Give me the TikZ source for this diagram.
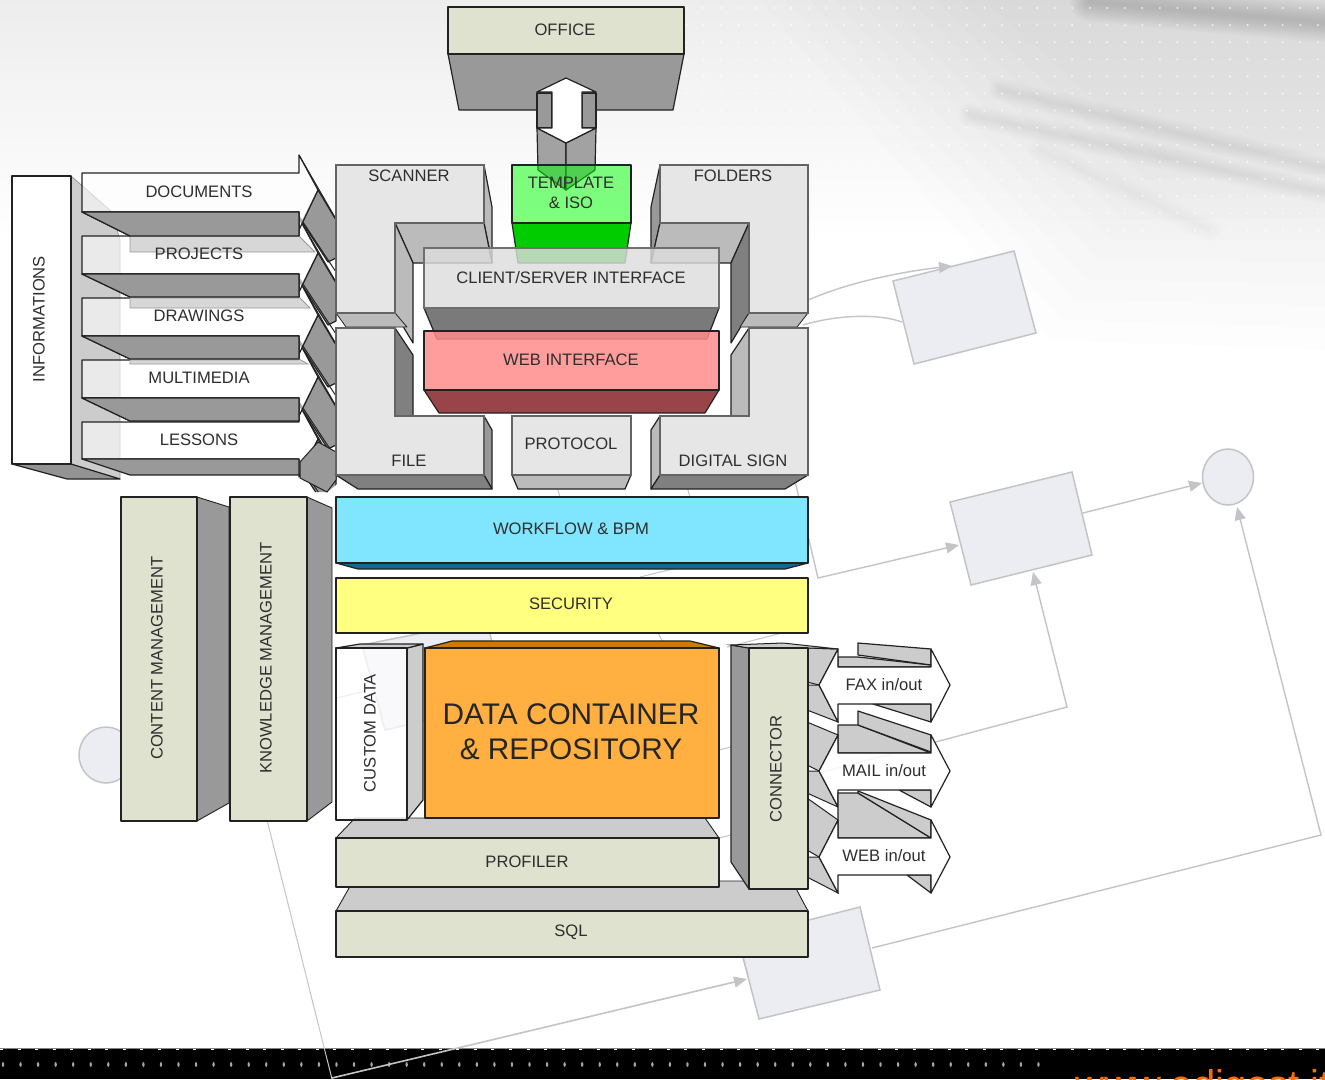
\documentclass[tikz,border=0pt]{standalone}
\usepackage{fontspec}
\setmainfont{Liberation Sans}
\usetikzlibrary{arrows.meta}
\definecolor{ink}{HTML}{222222}
\definecolor{txt}{HTML}{2E2E2E}
\definecolor{khaki}{HTML}{DFE2CF}
\definecolor{pale}{HTML}{E6E6E6}
\definecolor{midg}{HTML}{BBBBBB}
\definecolor{darkg}{HTML}{999999}
\definecolor{deepg}{HTML}{808080}
\definecolor{bgfill}{HTML}{EBEDF2}
\definecolor{bgline}{HTML}{C4C4C8}
\tikzset{
  face/.style={draw=ink,line width=1.2pt,line join=round},
  bgshape/.style={draw=bgline,fill=bgfill,line width=1.5pt},
  bglink/.style={draw=bgline,line width=1.4pt},
  bgarrow/.style={bglink,-{Triangle[length=13pt,width=11pt]}},
  lab/.style={text=txt,font=\fontsize{16.6}{20}\selectfont,inner sep=0pt,align=center,yshift=-1pt},
  vlab/.style={lab,yshift=1pt,rotate=90},
}
\begin{document}
\begin{tikzpicture}[x=1pt,y=-1pt]
\useasboundingbox (0,0) rectangle (1325,1079);
\begin{scope}
\clip (0,0) rectangle (1325,1079);
% ---------- paper texture
\fill[white] (0,0) rectangle (1325,1079);
\shade[top color=black!7,bottom color=white] (0,0) rectangle (1325,240);
\foreach \k in {0,...,9}
  \fill[black,opacity=.007] (760+\k*25,0) -- (1325,0) -- (1325,350-\k*22) -- (1050+\k*12,340-\k*20) -- cycle;
\foreach \w in {4,8,...,40}
  \draw[black,opacity=.014,line width=\w pt,line cap=round] (1090,2) -- (1340,24);
\foreach \w in {3,6,...,24} {
  \draw[black,opacity=.009,line width=\w pt,line cap=round] (1000,90) -- (1340,172);
  \draw[black,opacity=.009,line width=\w pt,line cap=round] (970,115) -- (1340,196);
  \draw[black,opacity=.004,line width=\w pt,line cap=round] (1040,150) -- (1210,230);
}
\fill[white,opacity=.75] \foreach \x in {0,...,36}{\foreach \y in {0,...,13}{ (686+\x*17.55,8+\y*17.1) circle[radius=1.1] }};
% ---------- bottom band
\fill[black] (0,1049) rectangle (1325,1079);
\draw[gray,line width=1pt] (0,1048.5) -- (1325,1048.5);
\draw[white,line width=1pt,dash pattern=on 3pt off 14.55pt] (0,1049.5) -- (1325,1049.5);
\fill[white!65!black] \foreach \x in {0,...,59}{ (3+\x*17.55,1064.5) circle[x radius=1.2,y radius=2.4] };
\node[anchor=base west,inner sep=0pt,text=orange!85!red,font=\fontsize{40}{44}\selectfont] (site) at (1075,1098.5) {www.edigest.it};
% ---------- faint process diagram behind
\coordinate (bgA1) at (893,281); \coordinate (bgA2) at (1014,251); \coordinate (bgA3) at (1036,333); \coordinate (bgA4) at (914,364);
\coordinate (bgB1) at (950,502); \coordinate (bgB2) at (1072,472); \coordinate (bgB3) at (1092,555); \coordinate (bgB4) at (971,585);
\coordinate (bgC1) at (738,938); \coordinate (bgC2) at (860,907); \coordinate (bgC3) at (880,990); \coordinate (bgC4) at (759,1019);
\coordinate (bgD1) at (362,645); \coordinate (bgD2) at (487,620); \coordinate (bgD3) at (505,702); \coordinate (bgD4) at (385,730);
\filldraw[bgshape] (bgA1) -- (bgA2) -- (bgA3) -- (bgA4) -- cycle;
\filldraw[bgshape] (bgB1) -- (bgB2) -- (bgB3) -- (bgB4) -- cycle;
\filldraw[bgshape] (bgC1) -- (bgC2) -- (bgC3) -- (bgC4) -- cycle;
\filldraw[bgshape] (bgD1) -- (bgD2) -- (bgD3) -- (bgD4) -- cycle;
\filldraw[bgshape] (1228,477) ellipse[x radius=25.5,y radius=28];
\filldraw[bgshape] (106,755) ellipse[x radius=27,y radius=28];
\coordinate (circR) at (1202,483); \coordinate (circB) at (1237,507);
\coordinate (c1s) at (808,300); \coordinate (c1e) at (952,266);
\coordinate (c2s) at (803,325); \coordinate (c2e) at (902,322);
\coordinate (c3s) at (790,460); \coordinate (c3m) at (818,578); \coordinate (c3e) at (959,545);
\coordinate (c4s) at (1083,513);
\coordinate (c5s) at (808,776); \coordinate (c5m) at (1067,707); \coordinate (c5e) at (1033,572);
\coordinate (c6s) at (872,948); \coordinate (c6m) at (1321,835);
\coordinate (c7s) at (332,1078); \coordinate (c7e) at (747,979);
\coordinate (c8s) at (262,800); \coordinate (c8e) at (332,1079);
\draw[bgarrow] (c1s) .. controls (850,282) and (900,272) .. (c1e);
\draw[bglink] (c2s) .. controls (840,314) and (880,314) .. (c2e);
\draw[bgarrow] (c3s) -- (c3m) -- (c3e);
\draw[bgarrow] (c4s) -- (circR);
\draw[bgarrow] (c5s) -- (c5m) -- (c5e);
\draw[bgarrow] (c6s) -- (c6m) -- (circB);
\draw[bgarrow,line width=1.6pt] (c7s) -- (c7e);
\draw[draw=bgline,line width=1pt] (c8s) -- (c8e);
\draw[bglink,line width=1pt] (337,698) -- (365,691);
\draw[bglink,line width=1pt] (640,577) -- (697,563);
\draw[bglink,line width=1pt] (727,647) -- (790,631);
\draw[bglink,line width=1pt] (658,633) -- (663,642);
\draw[bglink,line width=1pt] (719,750) -- (731,747);
\draw[bglink,line width=1pt] (719,838) -- (731,835);
\draw[bglink,line width=1pt] (555,480) -- (560,497);
\draw[bglink,line width=1pt] (685,480) -- (690,497);
\draw[bglink,line width=1pt] (743,957) -- (748,975);
% ---------- INFORMATIONS
\filldraw[draw=darkg,fill=black!20,line width=.8pt] (71,176) -- (112,212) -- (120,240) -- (120,479) -- (71,464) -- cycle;
\filldraw[face,fill=deepg!85] (12,464) -- (67,479) -- (120,479) -- (71,464) -- cycle;
\filldraw[face,fill=white] (12,176) rectangle (71,464);
% ---------- five arrows, bottom to top
\begin{scope}
\clip (0,0) -- (340,0) -- (340,482) -- (327,492) -- (0,492) -- cycle;
\foreach \t/\b/\c/\ex in {
   422/459/439/475,
   360/398/377/421,
   298/336/315/359,
   236/274/253/297,
   173/212/190/236} {
  \filldraw[face,fill=darkg] (318,\c) -- (336,\c+30) -- (336,\c+68) -- (328,\c+72) -- (302,\c+32) -- cycle;
  \draw[ink,line width=1pt] (299,\t-18) -- (340,\c+36);
  \draw[ink,line width=1pt] (299,\b+4) -- (340,\b+66);
  \filldraw[face,fill=white,fill opacity=.6] (82,\t) -- (299,\t) -- (299,\t-18) -- (318,\c) -- (299,\b+18) -- (299,\b) -- (82,\b) -- cycle;
  \filldraw[face,fill=darkg] (82,\b) -- (130,\ex) -- (299,\ex) -- (299,\b) -- cycle;
}
\end{scope}
\filldraw[draw=darkg,fill=black!18,line width=.8pt,fill opacity=.85] (130,236) -- (130,252) -- (315,252) -- (299,236) -- cycle;
\filldraw[draw=darkg,fill=black!18,line width=.8pt,fill opacity=.85] (130,297) -- (130,308) -- (310,308) -- (299,297) -- cycle;
\filldraw[draw=darkg,fill=black!18,line width=.8pt,fill opacity=.85] (130,359) -- (130,364) -- (308,364) -- (299,359) -- cycle;
\filldraw[face,fill=darkg] (82,212) -- (130,236) -- (299,236) -- (299,212) -- cycle;
\filldraw[face,fill=darkg] (82,274) -- (130,297) -- (299,297) -- (299,274) -- cycle;
\filldraw[face,fill=darkg] (82,336) -- (130,359) -- (299,359) -- (299,336) -- cycle;
\filldraw[face,fill=darkg] (82,398) -- (130,421) -- (299,421) -- (299,398) -- cycle;
\filldraw[draw=ink,line width=1pt,fill=darkg] (318,442) -- (336,452) -- (336,480) -- (327,492) -- (300,478) -- (300,462) -- cycle;
% ---------- OFFICE and its double arrow
\filldraw[face,fill=darkg] (448,54) -- (459,110) -- (673,110) -- (684,54) -- cycle;
\filldraw[face,fill=khaki] (448,7) rectangle (684,54);
\filldraw[face,fill=darkg,fill opacity=.9] (537,128) -- (566,143) -- (566,190) -- (538,170) -- cycle;
\filldraw[face,fill=darkg,fill opacity=.9] (596,128) -- (566,143) -- (566,190) -- (595,170) -- cycle;
\filldraw[face,fill=darkg] (537,93) rectangle (552,128);
\filldraw[face,fill=darkg] (582,93) rectangle (596,128);
\filldraw[face,fill=white] (566,78) -- (596,92) -- (582,92) -- (582,128) -- (596,128) -- (566,143) -- (537,128) -- (552,128) -- (552,92) -- (537,92) -- cycle;
% ---------- the four L blocks
% SCANNER
\filldraw[face,fill=midg] (484,165) -- (492,207) -- (492,263) -- (484,223) -- cycle;
\filldraw[face,fill=midg] (395,223) -- (413,263) -- (492,263) -- (484,223) -- cycle;
\filldraw[face,fill=midg] (395,223) -- (413,263) -- (413,343) -- (395,313) -- cycle;
\filldraw[face,fill=midg,line width=.8pt] (336,313) -- (346,327) -- (407,327) -- (395,313) -- cycle;
\filldraw[draw=ink!70,line width=1.2pt,fill=pale] (336,165) -- (484,165) -- (484,223) -- (395,223) -- (395,313) -- (336,313) -- cycle;
% FOLDERS
\filldraw[face,fill=darkg] (660,165) -- (651,207) -- (651,263) -- (660,223) -- cycle;
\filldraw[face,fill=midg] (660,223) -- (651,263) -- (731,263) -- (749,223) -- cycle;
\filldraw[face,fill=deepg] (749,223) -- (731,263) -- (731,343) -- (749,313) -- cycle;
\filldraw[face,fill=midg,line width=.8pt] (808,313) -- (797,327) -- (740,327) -- (749,313) -- cycle;
\filldraw[draw=ink!70,line width=1.2pt,fill=pale] (660,165) -- (808,165) -- (808,313) -- (749,313) -- (749,223) -- (660,223) -- cycle;
% FILE
\filldraw[face,fill=deepg] (395,328) -- (413,355) -- (413,416) -- (395,416) -- cycle;
\filldraw[face,fill=darkg] (484,416) -- (492,430) -- (492,489) -- (484,475) -- cycle;
\filldraw[face,fill=deepg] (336,475) -- (358,489) -- (492,489) -- (484,475) -- cycle;
\filldraw[draw=ink!70,line width=1.2pt,fill=pale] (336,328) -- (395,328) -- (395,416) -- (484,416) -- (484,475) -- (336,475) -- cycle;
% DIGITAL SIGN
\filldraw[face,fill=midg] (749,328) -- (731,355) -- (731,416) -- (749,416) -- cycle;
\filldraw[face,fill=midg] (660,416) -- (651,430) -- (651,489) -- (660,475) -- cycle;
\filldraw[face,fill=deepg] (660,475) -- (651,489) -- (785,489) -- (808,475) -- cycle;
\filldraw[draw=ink!70,line width=1.2pt,fill=pale] (749,328) -- (808,328) -- (808,475) -- (660,475) -- (660,416) -- (749,416) -- cycle;
% PROTOCOL
\filldraw[face,fill=midg] (512,475) -- (518,489) -- (625,489) -- (631,475) -- cycle;
\filldraw[draw=ink!70,line width=1.2pt,fill=pale] (512,416) rectangle (631,475);
% TEMPLATE
\filldraw[face,fill=green!80!black] (512,223) -- (518,263) -- (625,263) -- (631,223) -- cycle;
\filldraw[face,fill={rgb,255:red,0;green,255;blue,0},fill opacity=.5] (512,165) rectangle (631,223);
% CLIENT/SERVER and WEB
\filldraw[face,fill=black!52] (424,308) -- (437,339) -- (707,339) -- (719,308) -- cycle;
\filldraw[draw=ink!65,line width=1.2pt,fill={rgb,255:red,221;green,221;blue,221},fill opacity=.82] (424,248) rectangle (719,308);
\filldraw[face,fill={rgb,255:red,152;green,68;blue,72}] (424,390) -- (439,413) -- (705,413) -- (719,390) -- cycle;
\filldraw[face,fill={rgb,255:red,255;green,140;blue,140},fill opacity=.85] (424,331) rectangle (719,390);
% ---------- management columns
\filldraw[face,fill=darkg,line width=.9pt] (197,497) -- (229,507) -- (229,803) -- (197,821) -- cycle;
\filldraw[face,fill=khaki] (121,497) rectangle (197,821);
\filldraw[face,fill=darkg,line width=.9pt] (307,497) -- (332,508) -- (332,802) -- (307,821) -- cycle;
\filldraw[face,fill=khaki] (230,497) rectangle (307,821);
% ---------- WORKFLOW, SECURITY
\filldraw[face,fill={rgb,255:red,10;green,110;blue,145}] (336,563) -- (358,569) -- (785,569) -- (808,563) -- cycle;
\filldraw[face,fill={rgb,255:red,128;green,230;blue,255}] (336,497) rectangle (808,563);
\filldraw[face,fill={rgb,255:red,255;green,255;blue,128}] (336,578) rectangle (808,633);
% ---------- SQL, PROFILER
\filldraw[draw=ink,line width=.9pt,fill=black!20] (336,911) -- (353,881) -- (792,881) -- (808,911) -- cycle;
\filldraw[face,fill=khaki] (336,911) rectangle (808,957);
\filldraw[draw=ink,line width=.9pt,fill=black!20] (336,838) -- (355,818) -- (705,818) -- (719,838) -- cycle;
\filldraw[face,fill=khaki] (336,838) rectangle (719,887);
% ---------- CUSTOM DATA, DATA CONTAINER
\filldraw[face,fill=black!20] (407,648) -- (423,644) -- (423,800) -- (407,820) -- cycle;
\filldraw[face,fill=black!20] (336,648) -- (360,644) -- (423,644) -- (407,648) -- cycle;
\filldraw[face,fill=white,fill opacity=.72] (336,648) rectangle (407,820);
\filldraw[face,fill={rgb,255:red,204;green,122;blue,0}] (425,648) -- (452,641) -- (690,641) -- (719,648) -- cycle;
\filldraw[face,fill={rgb,255:red,255;green,176;blue,64}] (425,648) rectangle (719,818);
% ---------- the three in/out arrows
\foreach \ht/\bt/\bb/\hb/\tip/\ua/\ub/\uc/\ud/\va/\vb/\la/\lb/\lc/\ld/\lx in {
  649/667/704/722/685/643/655/649/665/657/665/648/682/710/685/873,
  735/753/790/807/771/711/725/735/752/725/753/722/765/793/771/899,
  820/838/875/893/857/791/793/820/838/793/838/798/850/877/857/907} {
  \filldraw[face,fill=black!20] (838,\va) -- (838,\bt) -- (931,\bt) -- (931,\vb) -- (858,\va) -- cycle;
  \filldraw[face,fill=black!20] (858,\ua) -- (931,\uc) -- (931,\ud) -- (858,\ub) -- cycle;
  \filldraw[face,fill=black!20] (\lx,\bb) -- (931,\bb) -- (931,\hb) -- cycle;
  \filldraw[draw=ink,line width=1pt,fill=black!20] (807,\la) -- (838,\ht) -- (819,\tip) -- (807,\lb) -- cycle;
  \filldraw[draw=ink,line width=1pt,fill=black!20] (807,\ld) -- (819,\tip) -- (838,\hb) -- (807,\lc) -- cycle;
  \filldraw[face,fill=white,fill opacity=.85] (819,\tip) -- (838,\ht) -- (838,\bt) -- (931,\bt) -- (931,\ht) -- (950,\tip) -- (931,\hb) -- (931,\bb) -- (838,\bb) -- (838,\hb) -- cycle;
}
% ---------- CONNECTOR
\filldraw[face,fill=darkg] (749,648) -- (731,645) -- (731,862) -- (749,889) -- cycle;
\filldraw[draw=ink,line width=1pt,fill=black!20] (731,645) -- (783,643) -- (838,649) -- (808,648) -- (749,648) -- cycle;
\filldraw[face,fill=khaki] (749,648) rectangle (808,889);
% ---------- labels
\node[lab] (office) at (565,29) {OFFICE};
\node[lab] (template) at (571,192) {TEMPLATE\\\& ISO};
\node[lab] (scanner) at (409,175) {SCANNER};
\node[lab] (folders) at (733,175) {FOLDERS};
\node[lab] (client) at (571,277) {CLIENT/SERVER INTERFACE};
\node[lab] (web) at (571,359) {WEB INTERFACE};
\node[lab] (protocol) at (571,443) {PROTOCOL};
\node[lab] (file) at (409,460) {FILE};
\node[lab] (digital) at (733,460) {DIGITAL SIGN};
\node[lab] (workflow) at (571,528) {WORKFLOW \& BPM};
\node[lab] (security) at (571,603) {SECURITY};
\node[lab,text=black!85,font=\fontsize{29.8}{35}\selectfont] (data) at (571,731) {DATA CONTAINER\\\& REPOSITORY};
\node[vlab] (custom) at (370,733) {CUSTOM DATA};
\node[lab] (profiler) at (527,861) {PROFILER};
\node[lab] (sql) at (571,931) {SQL};
\node[vlab] (connector) at (776,769) {CONNECTOR};
\node[lab] (fax) at (884,684) {FAX in/out};
\node[lab] (mail) at (884,770) {MAIL in/out};
\node[lab] (webio) at (884,855) {WEB in/out};
\node[vlab] (content) at (157,658) {CONTENT MANAGEMENT};
\node[vlab] (knowledge) at (266,658) {KNOWLEDGE MANAGEMENT};
\node[vlab] (info) at (39,319) {INFORMATIONS};
\node[lab] (documents) at (199,191) {DOCUMENTS};
\node[lab] (projects) at (199,253) {PROJECTS};
\node[lab] (drawings) at (199,315) {DRAWINGS};
\node[lab] (multimedia) at (199,377) {MULTIMEDIA};
\node[lab] (lessons) at (199,439) {LESSONS};
\end{scope}
\end{tikzpicture}
\end{document}
